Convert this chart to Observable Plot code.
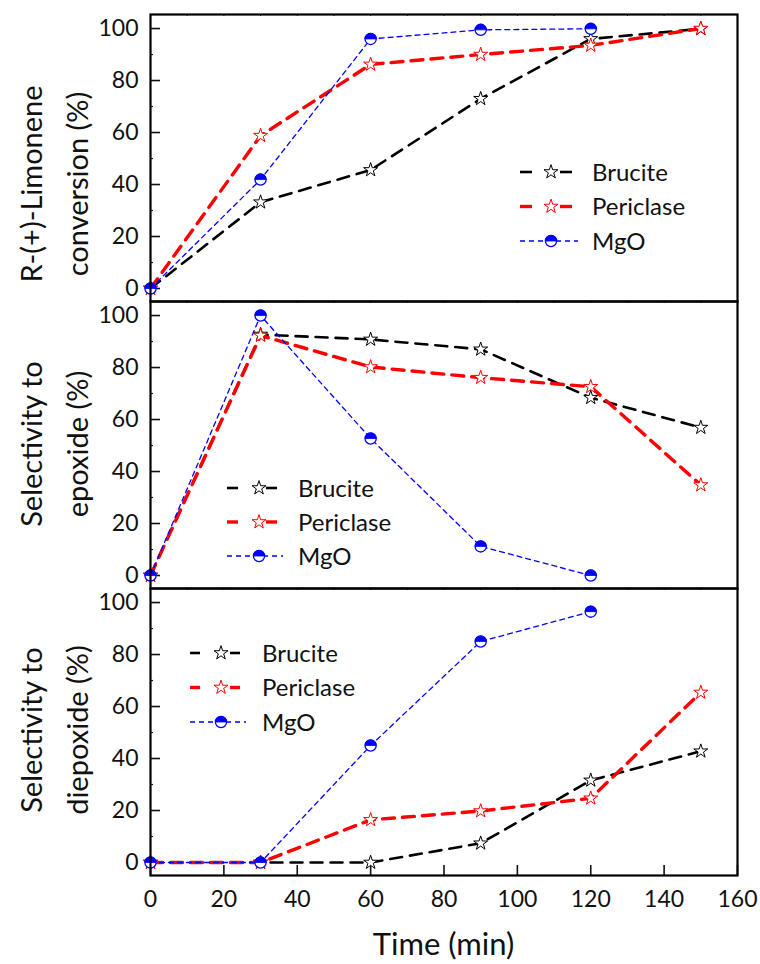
<!DOCTYPE html>
<html>
<head>
<meta charset="utf-8">
<script src="https://cdn.jsdelivr.net/npm/d3@7"></script>
<script src="https://cdn.jsdelivr.net/npm/@observablehq/plot@0.6"></script>
<style>
  html, body { margin: 0; padding: 0; background: #fff; }
  #chart svg { display: block; }
</style>
</head>
<body>
<div id="chart"></div>
<script>
// ---------- data ----------
const times = [0, 30, 60, 90, 120, 150];
const timesMgO = [0, 30, 60, 90, 120];
const seriesNames = ["Brucite", "Periclase", "MgO"];

const convBrucite   = [0, 33.2, 45.6, 73.0, 96.0, 99.9];
const convPericlase = [0, 58.8, 86.2, 90.0, 93.5, 100];
const convMgO       = [0, 41.9, 96.0, 99.5, 99.9];

const epoxBrucite   = [0, 92.7, 90.8, 87.0, 68.4, 56.9];
const epoxPericlase = [0, 92.3, 80.2, 76.1, 72.6, 34.8];
const epoxMgO       = [0, 100, 52.7, 11.2, 0];

const diepBrucite   = [0, 0, 0, 7.4, 31.6, 42.8];
const diepPericlase = [0, 0, 16.4, 19.8, 24.7, 65.4];
const diepMgO       = [0, 0, 45.0, 85.0, 96.5];

const yTicks = [0, 20, 40, 60, 80, 100];
const yMinor = [10, 30, 50, 70, 90];
const xTicks = [0, 20, 40, 60, 80, 100, 120, 140, 160];
const xMinor = [10, 30, 50, 70, 90, 110, 130, 150];

const yLabels = [
  ["R-(+)-Limonene", "conversion (%)"],
  ["Selectivity to", "epoxide (%)"],
  ["Selectivity to", "diepoxide (%)"]
];
const xLabel = "Time (min)";

// ---------- styles ----------
const W = 760, ML = 150, MR = 23;
const PW = W - ML - MR;
const PH = 287;
const FONT = "Lato, 'Open Sans', sans-serif";

const styles = {
  Brucite:   {stroke: "#000", dash: "12 8", width: 2.6},
  Periclase: {stroke: "#ff0000", dash: "12 8", width: 3.4},
  MgO:       {stroke: "#0000ff", dash: "5 4", width: 1.3}
};

const halfTop = {
  draw(ctx, size) {
    const r = Math.sqrt(size / Math.PI);
    ctx.moveTo(r, 0);
    ctx.arc(0, 0, r, 0, Math.PI, true);
    ctx.closePath();
  }
};

const STAR_R = 4.4, DOT_R = 5.6;

function rows(xs, ys, name) {
  return xs.map((t, i) => ({time: t, value: ys[i], series: name}));
}

function panel({b, p, m, idx, height, marginTop, marginBottom, legend, bottom}) {
  const dB = rows(times, b, "Brucite");
  const dP = rows(times, p, "Periclase");
  const dM = rows(timesMgO, m, "MgO");
  const marks = [
    Plot.tickY(yTicks, {y: d => d, insetRight: PW - 10, strokeWidth: 1.6}),
    Plot.tickY(yMinor, {y: d => d, insetRight: PW - 3, strokeWidth: 1.2}),
    Plot.tickX(xMinor.concat(xTicks), {x: d => d, insetBottom: PH - 2, strokeWidth: 1}),
    Plot.axisY({ticks: yTicks, tickSize: 0, tickPadding: 12, fontSize: 23, label: null}),
  ];
  if (bottom) {
    marks.push(Plot.tickX(xTicks, {x: d => d, insetTop: PH - 10, strokeWidth: 1.6}));
    marks.push(Plot.axisX({ticks: xTicks, tickSize: 0, tickPadding: 15, fontSize: 23, label: null}));
  }
  for (const [d, name] of [[dB, "Brucite"], [dP, "Periclase"], [dM, "MgO"]]) {
    const s = styles[name];
    marks.push(Plot.line(d, {x: "time", y: "value", stroke: s.stroke, strokeWidth: s.width, strokeDasharray: s.dash}));
  }
  marks.push(Plot.dot(dB, {x: "time", y: "value", symbol: "star", r: STAR_R, fill: "white", stroke: "#000", strokeWidth: 1}));
  marks.push(Plot.dot(dP, {x: "time", y: "value", symbol: "star", r: STAR_R, fill: "white", stroke: "#ff0000", strokeWidth: 1}));
  marks.push(Plot.dot(dM, {x: "time", y: "value", r: DOT_R, fill: "white", stroke: "#0000ff", strokeWidth: 1.3}));
  marks.push(Plot.dot(dM, {x: "time", y: "value", symbol: halfTop, r: DOT_R, fill: "#0000ff", stroke: "#0000ff", strokeWidth: 0.8}));
  marks.push(Plot.frame({stroke: "#000", strokeWidth: 2.2}));

  const svg = Plot.plot({
    width: W, height, marginLeft: ML, marginRight: MR, marginTop, marginBottom,
    x: {domain: [0, 160], axis: null},
    y: {domain: [-5, 105.4], axis: null},
    style: {fontFamily: FONT, fontSize: "23px", color: "#111", background: "white", overflow: "visible"},
    marks
  });

  const s = d3.select(svg);
  // y-axis title (two lines)
  const yc = legend.titleY;
  const lab = yLabels[idx];
  [[lab[0], 42], [lab[1], 88]].forEach(([t, x]) => {
    s.append("text")
      .attr("transform", `translate(${x},${yc}) rotate(-90)`)
      .attr("text-anchor", "middle")
      .attr("font-family", FONT)
      .attr("font-size", 29)
      .attr("fill", "#111")
      .text(t);
  });
  // legend
  const g = s.append("g").attr("text-anchor", "start");
  seriesNames.forEach((name, i) => {
    const st = styles[name];
    const y = legend.y + i * legend.dy;
    const cx = legend.cx;
    if (name === "MgO") {
      g.append("line")
        .attr("x1", legend.x1).attr("x2", legend.x2 + 6).attr("y1", y).attr("y2", y)
        .attr("stroke", st.stroke).attr("stroke-width", st.width)
        .attr("stroke-dasharray", "5 4");
      g.append("circle").attr("cx", cx).attr("cy", y).attr("r", DOT_R)
        .attr("fill", "white").attr("stroke", st.stroke).attr("stroke-width", 1.3);
      g.append("path").attr("transform", `translate(${cx},${y})`)
        .attr("d", d3.symbol(halfTop, Math.PI * DOT_R * DOT_R)())
        .attr("fill", st.stroke).attr("stroke", st.stroke).attr("stroke-width", 0.8);
    } else {
      [[legend.x1, legend.x1 + legend.L], [legend.x2 - legend.L, legend.x2]].forEach(([a, c]) => {
        g.append("line")
          .attr("x1", a).attr("x2", c).attr("y1", y).attr("y2", y)
          .attr("stroke", st.stroke).attr("stroke-width", st.width);
      });
      g.append("path").attr("transform", `translate(${cx},${y})`)
        .attr("d", d3.symbol(d3.symbolStar, Math.PI * STAR_R * STAR_R)())
        .attr("fill", "white").attr("stroke", st.stroke).attr("stroke-width", 1);
    }
    g.append("text").attr("x", legend.tx).attr("y", y).attr("dy", "0.36em")
      .attr("text-anchor", "start")
      .attr("font-family", FONT).attr("font-size", 24).attr("fill", "#111")
      .text(name);
  });
  if (bottom) {
    s.append("text")
      .attr("x", ML + PW / 2).attr("y", height - 9)
      .attr("text-anchor", "middle")
      .attr("font-family", FONT).attr("font-size", 31).attr("fill", "#111")
      .text(xLabel);
  }
  return svg;
}

const root = document.getElementById("chart");
root.appendChild(panel({
  b: convBrucite, p: convPericlase, m: convMgO, idx: 0,
  height: 14 + PH, marginTop: 14, marginBottom: 0,
  legend: {x1: 520, x2: 572, cx: 551, L: 12, tx: 592, y: 172, dy: 34.5, titleY: 184}
}));
root.appendChild(panel({
  b: epoxBrucite, p: epoxPericlase, m: epoxMgO, idx: 1,
  height: PH, marginTop: 0, marginBottom: 0,
  legend: {x1: 227, x2: 277, cx: 259, L: 11, tx: 298, y: 187, dy: 34, titleY: 143}
}));
root.appendChild(panel({
  b: diepBrucite, p: diepPericlase, m: diepMgO, idx: 2,
  height: 964 - 14 - 2 * PH, marginTop: 0, marginBottom: 964 - 14 - 3 * PH, bottom: true,
  legend: {x1: 190, x2: 240, cx: 221, L: 10, tx: 262, y: 65, dy: 34.5, titleY: 142}
}));
</script>
</body>
</html>
